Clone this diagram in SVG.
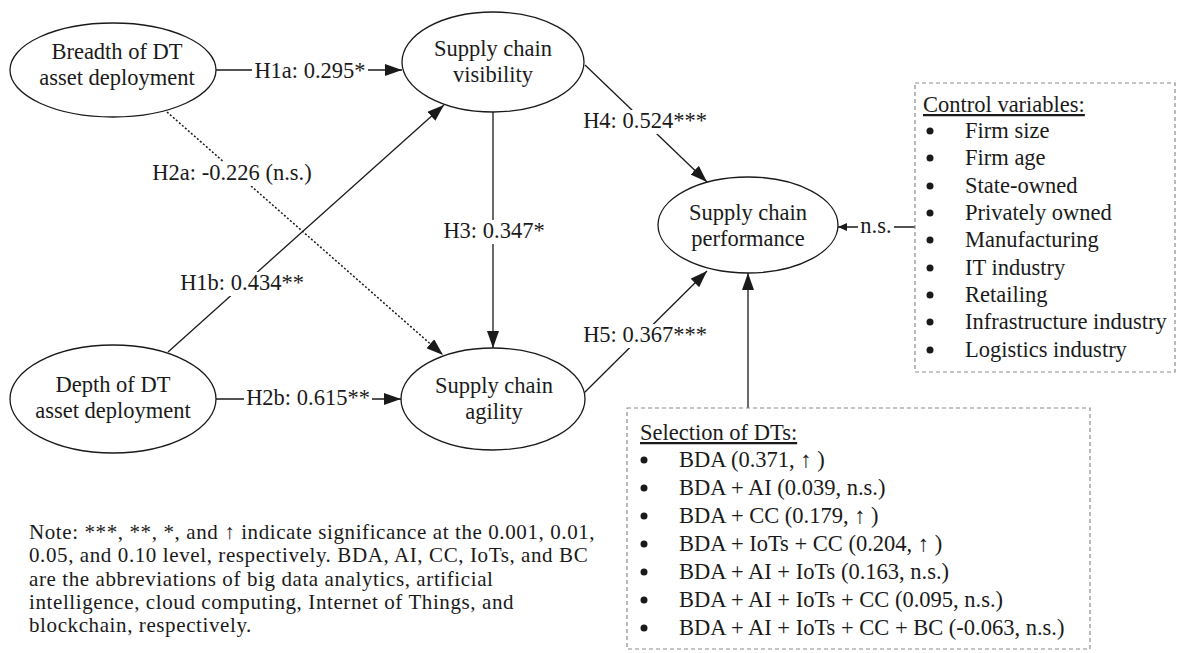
<svg xmlns="http://www.w3.org/2000/svg" width="1177" height="653" viewBox="0 0 1177 653">
  <style>
    .t { font-family: "Liberation Serif", "Times New Roman", "DejaVu Serif", serif; font-size: 22.5px; fill: #1a1a1a; }
    .c { text-anchor: middle; }
    .note { font-size: 21px; letter-spacing: 0.6px; }
    .node { fill: #ffffff; stroke: #1a1a1a; stroke-width: 1.3; }
    .edge { fill: none; stroke: #1a1a1a; stroke-width: 1.3; }
    .dotted { stroke-dasharray: 2 2; stroke-width: 1.5; }
    .bg { fill: #ffffff; }
    .box { fill: #ffffff; stroke: #8c8c8c; stroke-width: 1.2; stroke-dasharray: 4 3; }
    .dot { fill: #1a1a1a; }
  </style>
  <defs>
    <marker id="arrow" viewBox="0 0 17 12" refX="17" refY="6" markerWidth="17" markerHeight="12" markerUnits="userSpaceOnUse" orient="auto">
      <path d="M0,0 L17,6 L0,12 z" fill="#1a1a1a"/>
    </marker>
    <marker id="arrow-small" viewBox="0 0 9 8" refX="9" refY="4" markerWidth="9" markerHeight="8" markerUnits="userSpaceOnUse" orient="auto">
      <path d="M0,0 L9,4 L0,8 z" fill="#1a1a1a"/>
    </marker>
  </defs>

  <rect width="1177" height="653" fill="#ffffff"/>

  <!-- connectors and path coefficients -->
  <g id="connectors">
    <line class="edge" x1="215" y1="70" x2="402" y2="70" marker-end="url(#arrow)"/>
    <line class="edge dotted" x1="167" y1="112" x2="443" y2="355" marker-end="url(#arrow)"/>
    <line class="edge" x1="168" y1="352" x2="444" y2="105" marker-end="url(#arrow)"/>
    <line class="edge" x1="216" y1="399" x2="401" y2="399" marker-end="url(#arrow)"/>
    <line class="edge" x1="493" y1="112" x2="493" y2="348" marker-end="url(#arrow)"/>
    <line class="edge" x1="585" y1="65" x2="707" y2="182" marker-end="url(#arrow)"/>
    <line class="edge" x1="584" y1="393" x2="707" y2="271" marker-end="url(#arrow)"/>
    <line class="edge" x1="748" y1="408" x2="748" y2="273" marker-end="url(#arrow)"/>
    <line class="edge" x1="915" y1="227" x2="838" y2="227" marker-end="url(#arrow-small)"/>

    <rect class="bg" x="252" y="60" width="116" height="24"/>
    <text class="t c" x="310" y="78">H1a: 0.295*</text>
    <rect class="bg" x="150" y="162" width="164" height="24"/>
    <text class="t c" x="232" y="180">H2a: -0.226 (n.s.)</text>
    <rect class="bg" x="177" y="272" width="130" height="24"/>
    <text class="t c" x="242" y="290">H1b: 0.434**</text>
    <rect class="bg" x="244" y="387" width="128" height="24"/>
    <text class="t c" x="308" y="405">H2b: 0.615**</text>
    <rect class="bg" x="441" y="220" width="106" height="24"/>
    <text class="t c" x="494" y="238">H3: 0.347*</text>
    <rect class="bg" x="580" y="110" width="130" height="24"/>
    <text class="t c" x="645" y="128">H4: 0.524***</text>
    <rect class="bg" x="580" y="324" width="130" height="24"/>
    <text class="t c" x="645" y="342">H5: 0.367***</text>
    <rect class="bg" x="858" y="216" width="36" height="20"/>
    <text class="t c" x="876" y="233">n.s.</text>
  </g>

  <!-- constructs -->
  <g id="breadth">
    <ellipse class="node" cx="113" cy="70" rx="103" ry="47"/>
    <text class="t c" x="117" y="59">Breadth of DT</text>
    <text class="t c" x="117" y="85">asset deployment</text>
  </g>
  <g id="depth">
    <ellipse class="node" cx="113" cy="399" rx="103" ry="54"/>
    <text class="t c" x="113" y="392">Depth of DT</text>
    <text class="t c" x="113" y="418">asset deployment</text>
  </g>
  <g id="visibility">
    <ellipse class="node" cx="493" cy="62" rx="91" ry="50"/>
    <text class="t c" x="493" y="56">Supply chain</text>
    <text class="t c" x="493" y="82">visibility</text>
  </g>
  <g id="agility">
    <ellipse class="node" cx="493" cy="399" rx="92" ry="51"/>
    <text class="t c" x="494" y="393">Supply chain</text>
    <text class="t c" x="494" y="419">agility</text>
  </g>
  <g id="performance">
    <ellipse class="node" cx="748" cy="225" rx="90" ry="48"/>
    <text class="t c" x="748" y="220">Supply chain</text>
    <text class="t c" x="748" y="246">performance</text>
  </g>

  <!-- control variables -->
  <g id="controls">
    <rect class="box" x="915" y="83" width="260" height="289"/>
    <text class="t" x="923" y="112" text-decoration="underline">Control variables:</text>
    <g class="dot">
      <circle cx="930" cy="131" r="3.5"/>
      <circle cx="930" cy="158" r="3.5"/>
      <circle cx="930" cy="186" r="3.5"/>
      <circle cx="930" cy="213" r="3.5"/>
      <circle cx="930" cy="240" r="3.5"/>
      <circle cx="930" cy="268" r="3.5"/>
      <circle cx="930" cy="295" r="3.5"/>
      <circle cx="930" cy="322" r="3.5"/>
      <circle cx="930" cy="350" r="3.5"/>
    </g>
    <text class="t" x="965" y="138">Firm size</text>
    <text class="t" x="965" y="165">Firm age</text>
    <text class="t" x="965" y="193">State-owned</text>
    <text class="t" x="965" y="220">Privately owned</text>
    <text class="t" x="965" y="247">Manufacturing</text>
    <text class="t" x="965" y="275">IT industry</text>
    <text class="t" x="965" y="302">Retailing</text>
    <text class="t" x="965" y="329">Infrastructure industry</text>
    <text class="t" x="965" y="357">Logistics industry</text>
  </g>

  <!-- selection of digital technologies -->
  <g id="selection">
    <rect class="box" x="627" y="408" width="463" height="241"/>
    <text class="t" x="640" y="440" text-decoration="underline">Selection of DTs:</text>
    <g class="dot">
      <circle cx="644" cy="460" r="3.5"/>
      <circle cx="644" cy="488" r="3.5"/>
      <circle cx="644" cy="516" r="3.5"/>
      <circle cx="644" cy="544" r="3.5"/>
      <circle cx="644" cy="572" r="3.5"/>
      <circle cx="644" cy="600" r="3.5"/>
      <circle cx="644" cy="628" r="3.5"/>
    </g>
    <text class="t" x="679" y="467">BDA (0.371, ↑ )</text>
    <text class="t" x="679" y="495">BDA + AI (0.039, n.s.)</text>
    <text class="t" x="679" y="523">BDA + CC (0.179, ↑ )</text>
    <text class="t" x="679" y="551">BDA + IoTs + CC (0.204, ↑ )</text>
    <text class="t" x="679" y="579">BDA + AI + IoTs (0.163, n.s.)</text>
    <text class="t" x="679" y="607">BDA + AI + IoTs + CC (0.095, n.s.)</text>
    <text class="t" x="679" y="635">BDA + AI + IoTs + CC + BC (-0.063, n.s.)</text>
  </g>

  <!-- significance note -->
  <g id="note">
    <text class="t note" x="29" y="539">Note: ***, **, *, and ↑ indicate significance at the 0.001, 0.01,</text>
    <text class="t note" x="29" y="562.3">0.05, and 0.10 level, respectively. BDA, AI, CC, IoTs, and BC</text>
    <text class="t note" x="29" y="585.6">are the abbreviations of big data analytics, artificial</text>
    <text class="t note" x="29" y="608.9">intelligence, cloud computing, Internet of Things, and</text>
    <text class="t note" x="29" y="632.2">blockchain, respectively.</text>
  </g>
</svg>
